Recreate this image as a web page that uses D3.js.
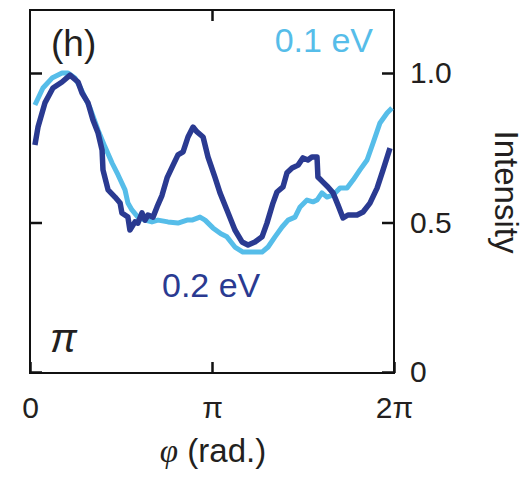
<!DOCTYPE html>
<html>
<head>
<meta charset="utf-8">
<script src="https://cdn.jsdelivr.net/npm/d3@7"></script>
<style>
  html, body { margin: 0; padding: 0; background: #fff; }
  svg { display: block; }
  text { font-family: "Liberation Sans", Arial, Helvetica, sans-serif; fill: #231f20; }
</style>
</head>
<body>
<svg id="chart" width="527" height="483"></svg>
<script>
// phi in units of pi (0..2), intensity (normalized)
const phi01 = [0.027,0.071,0.121,0.176,0.209,0.247,0.275,0.330,0.374,0.412,0.451,0.484,0.522,0.538,0.560,0.593,0.632,0.670,0.703,0.758,0.813,0.863,0.890,0.934,0.962,1.005,1.049,1.082,1.126,1.170,1.225,1.275,1.308,1.346,1.385,1.418,1.456,1.484,1.522,1.555,1.577,1.604,1.632,1.665,1.703,1.742,1.775,1.813,1.852,1.885,1.923,1.962,1.989];
const int01 = [0.893,0.950,0.983,1.000,1.000,0.983,0.953,0.883,0.809,0.753,0.699,0.659,0.609,0.565,0.542,0.518,0.508,0.502,0.508,0.502,0.498,0.508,0.508,0.518,0.508,0.482,0.462,0.452,0.418,0.401,0.401,0.401,0.418,0.452,0.485,0.508,0.518,0.552,0.575,0.569,0.575,0.599,0.585,0.592,0.615,0.615,0.642,0.676,0.709,0.766,0.833,0.866,0.883];

const phi02 = [0.027,0.044,0.082,0.126,0.176,0.220,0.264,0.286,0.319,0.346,0.374,0.396,0.401,0.429,0.467,0.495,0.505,0.538,0.549,0.577,0.593,0.615,0.632,0.648,0.676,0.698,0.725,0.753,0.786,0.813,0.841,0.868,0.896,0.918,0.951,0.978,1.016,1.044,1.082,1.126,1.165,1.198,1.236,1.275,1.302,1.335,1.357,1.390,1.412,1.440,1.473,1.500,1.527,1.549,1.577,1.582,1.610,1.637,1.665,1.692,1.720,1.747,1.797,1.830,1.868,1.907,1.940,1.978];
const int02 = [0.759,0.819,0.900,0.950,0.970,0.993,0.970,0.933,0.900,0.843,0.799,0.742,0.676,0.609,0.585,0.565,0.532,0.518,0.475,0.502,0.498,0.532,0.508,0.525,0.518,0.552,0.590,0.649,0.692,0.726,0.736,0.786,0.819,0.803,0.786,0.719,0.652,0.599,0.542,0.475,0.435,0.425,0.435,0.452,0.498,0.565,0.602,0.619,0.666,0.682,0.692,0.716,0.709,0.719,0.719,0.652,0.635,0.619,0.599,0.559,0.515,0.525,0.525,0.535,0.565,0.615,0.676,0.749];

const xTicks = [0, 1, 2];
const xTickLabels = ["0", "\u03c0", "2\u03c0"];
const yTicks = [0, 0.5, 1.0];
const yTickLabels = ["0", "0.5", "1.0"];

const colLight = "#56bde9";
const colDark = "#2a3a91";

const svg = d3.select("#chart");
const x = d3.scaleLinear().domain([0, 2]).range([30, 394]);
const y = d3.scaleLinear().domain([0, 1]).range([372, 73]);
const frameTop = 10, frameBottom = 373;

// frame
svg.append("rect").attr("x", 30).attr("y", frameTop).attr("width", 364).attr("height", frameBottom - frameTop)
  .attr("fill", "none").attr("stroke", "#111").attr("stroke-width", 2);

// axes
const axB = d3.axisBottom(x).tickValues(xTicks).tickSizeInner(-11).tickSizeOuter(0).tickPadding(24)
  .tickFormat((d, i) => xTickLabels[i]);
const gB = svg.append("g").attr("transform", `translate(0,${frameBottom})`).call(axB);
const axT = d3.axisTop(x).tickValues([1]).tickSizeInner(-11).tickSizeOuter(0).tickFormat("");
const gT = svg.append("g").attr("transform", `translate(0,${frameTop})`).call(axT);
const axL = d3.axisLeft(y).tickValues(yTicks).tickSizeInner(-12).tickSizeOuter(0).tickFormat("");
const gL = svg.append("g").attr("transform", `translate(30,0)`).call(axL);
const axR = d3.axisRight(y).tickValues(yTicks).tickSizeInner(-12).tickSizeOuter(0).tickPadding(16)
  .tickFormat((d, i) => yTickLabels[i]);
const gR = svg.append("g").attr("transform", `translate(394,0)`).call(axR);
[gB, gT, gL, gR].forEach(g => {
  g.select(".domain").remove();
  g.selectAll("line").attr("stroke", "#111").attr("stroke-width", 2.5);
  g.selectAll("text").attr("font-size", 30).attr("fill", "#231f20")
    .attr("font-family", '"Liberation Sans", Arial, Helvetica, sans-serif');
});

// lines
const line = d3.line().x(d => x(d[0])).y(d => y(d[1]));
svg.append("path").datum(phi01.map((p, i) => [p, int01[i]]))
  .attr("d", line).attr("fill", "none").attr("stroke", colLight).attr("stroke-width", 5)
  .attr("stroke-linejoin", "round").attr("stroke-linecap", "butt");
svg.append("path").datum(phi02.map((p, i) => [p, int02[i]]))
  .attr("d", line).attr("fill", "none").attr("stroke", colDark).attr("stroke-width", 5.5)
  .attr("stroke-linejoin", "round").attr("stroke-linecap", "butt");

// annotations
svg.append("text").attr("x", 51).attr("y", 56).attr("font-size", 37).text("(h)");
svg.append("text").attr("x", 373).attr("y", 52).attr("text-anchor", "end").attr("font-size", 34)
  .style("fill", colLight).text("0.1 eV");
svg.append("text").attr("x", 162).attr("y", 297).attr("font-size", 34)
  .style("fill", colDark).text("0.2 eV");
svg.append("text").attr("x", 50).attr("y", 352).attr("font-size", 40)
  .attr("font-family", '"Liberation Serif", "Times New Roman", serif').attr("font-style", "italic").text("\u03c0");

// axis titles
const xt = svg.append("text").attr("x", 213).attr("y", 462).attr("text-anchor", "middle").attr("font-size", 33);
xt.append("tspan").attr("font-family", '"Liberation Serif", "Times New Roman", serif').attr("font-style", "italic").text("\u03c6");
xt.append("tspan").text(" (rad.)");
svg.append("text").attr("transform", "translate(495,192) rotate(90)").attr("text-anchor", "middle")
  .attr("font-size", 33).text("Intensity");
</script>
</body>
</html>
